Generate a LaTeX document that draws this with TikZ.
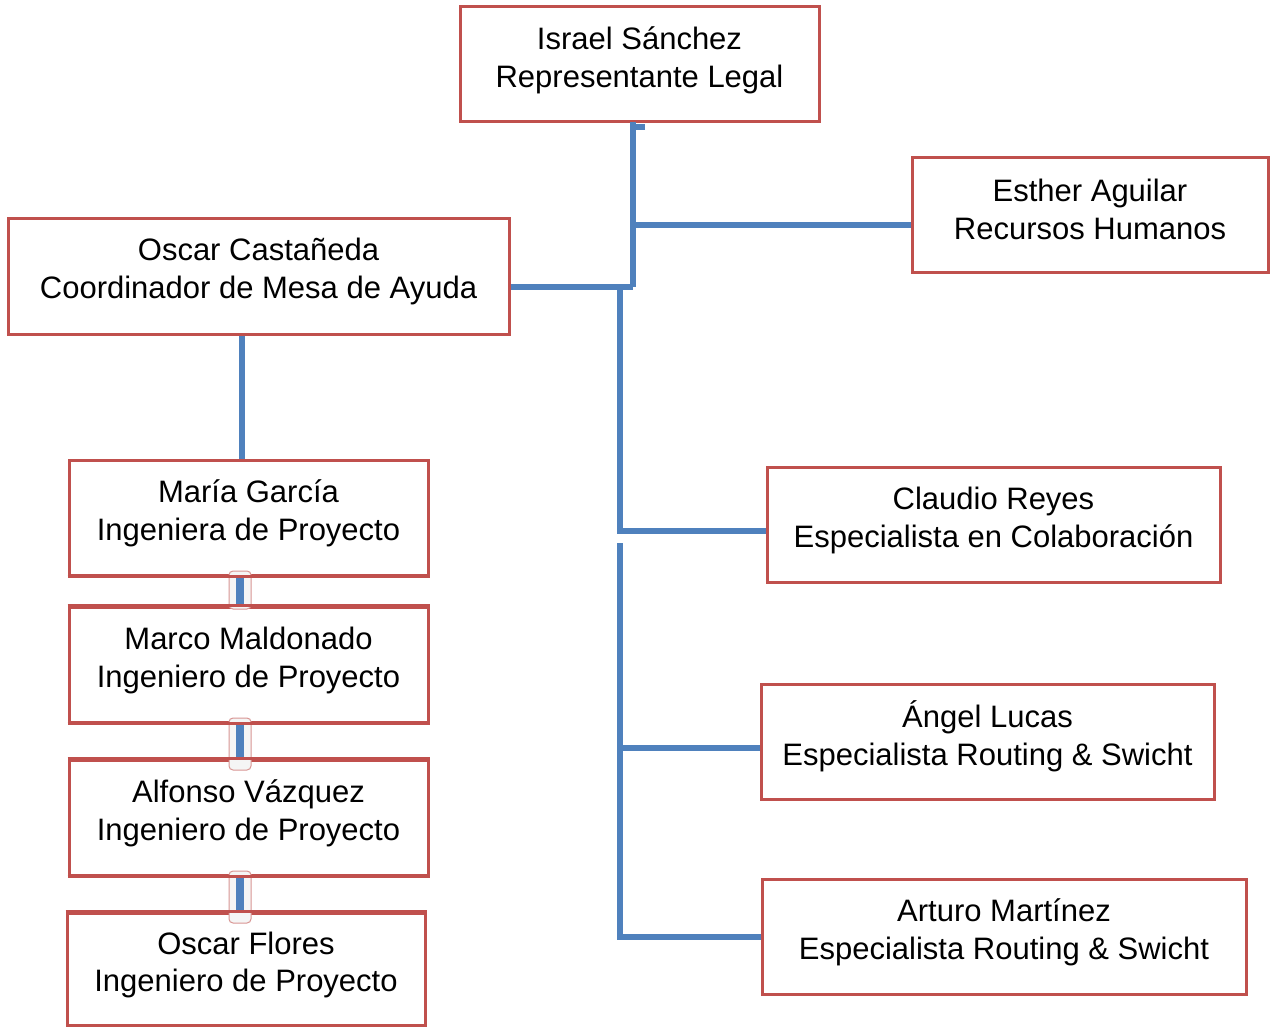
\documentclass[tikz,border=0pt]{standalone}
\usepackage{fontspec}
\setmainfont{Liberation Sans}
\definecolor{boxred}{HTML}{C0504D}
\definecolor{lineblue}{HTML}{4F81BD}
\begin{document}
\begin{tikzpicture}[x=1pt,y=-1pt,
  person/.style={draw=boxred, line width=3pt, fill=white, inner sep=0pt},
  caption/.style={align=center, inner sep=0pt, font=\fontsize{31}{37.5}\selectfont},
  link/.style={draw=lineblue, line width=6pt},
  joint/.style={draw=boxred!60, line width=1pt, fill=gray!8, rounded corners=4pt}]
\useasboundingbox (0,0) rectangle (1270,1027);
\fill[white] (0,0) rectangle (1270,1027);
\coordinate (top) at (633,122);
\coordinate (tick) at (645,127);
\coordinate (jA) at (633,225);
\coordinate (jB) at (633,287);
\coordinate (jC) at (620,287);
\coordinate (jD) at (620,531);
\coordinate (jE) at (620,543);
\coordinate (jF) at (620,748);
\coordinate (jG) at (620,937);
\node[person, minimum width=359pt, minimum height=115pt] (israel) at (639.5,64.5) {};
\node[person, minimum width=356pt, minimum height=115pt] (esther) at (1090,215.5) {};
\node[person, minimum width=501pt, minimum height=115pt] (oscarc) at (258.5,276.5) {};
\node[person, minimum width=359pt, minimum height=115pt] (maria) at (248.5,517.5) {};
\node[person, minimum width=359pt, minimum height=115pt] (marco) at (248.5,664.5) {};
\node[person, minimum width=359pt, minimum height=115pt] (alfonso) at (248.5,817.5) {};
\node[person, minimum width=358pt, minimum height=112pt] (oscarf) at (246,969) {};
\node[person, minimum width=453pt, minimum height=115pt] (claudio) at (993.5,524.5) {};
\node[person, minimum width=453pt, minimum height=115pt] (angel) at (987.5,741.5) {};
\node[person, minimum width=484pt, minimum height=115pt] (arturo) at (1004,936.5) {};
\node[caption] (israelT) at ([yshift=4pt]israel.center) {Israel Sánchez\\Representante Legal};
\node[caption] (estherT) at ([yshift=6pt]esther.center) {Esther Aguilar\\Recursos Humanos};
\node[caption] (oscarcT) at ([yshift=5pt]oscarc.center) {Oscar Castañeda\\Coordinador de Mesa de Ayuda};
\node[caption] (mariaT) at ([yshift=4pt]maria.center) {María García\\Ingeniera de Proyecto};
\node[caption] (marcoT) at ([yshift=4pt]marco.center) {Marco Maldonado\\Ingeniero de Proyecto};
\node[caption] (alfonsoT) at ([yshift=4pt]alfonso.center) {Alfonso Vázquez\\Ingeniero de Proyecto};
\node[caption] (oscarfT) at ([yshift=4pt]oscarf.center) {Oscar Flores\\Ingeniero de Proyecto};
\node[caption] (claudioT) at ([yshift=4pt]claudio.center) {Claudio Reyes\\Especialista en Colaboración};
\node[caption] (angelT) at ([yshift=5pt]angel.center) {Ángel Lucas\\Especialista Routing \& Swicht};
\node[caption] (arturoT) at ([yshift=4pt]arturo.center) {Arturo Martínez\\Especialista Routing \& Swicht};
% top tree
\draw[link] (tick) -- (top |- tick);
\draw[link] (top) -- (jB);
\draw[link] (jA) -- (jA -| esther.west);
\draw[link] (oscarc.east |- jB) -- (jB);
\draw[link] (jC) -- (jD) -- (jD -| claudio.west);
\draw[link] (jE) -- (jG) -- (jG -| arturo.west);
\draw[link] (jF) -- (jF -| angel.west);
\draw[link] (oscarc.south -| 242,0) -- (maria.north -| 242,0);
% stack joints
\draw[joint] (229,571) rectangle (251,609);
\draw[link, line width=8pt] (240,575) -- (240,607);
\draw[joint] (229,718) rectangle (251,770);
\draw[link, line width=8pt] (240,722) -- (240,760);
\draw[joint] (229,871) rectangle (251,923);
\draw[link, line width=8pt] (240,875) -- (240,913);
\draw[boxred, line width=3pt] (maria.south west) -- (maria.south east);
\draw[boxred, line width=3pt] (marco.north west) -- (marco.north east);
\draw[boxred, line width=3pt] (marco.south west) -- (marco.south east);
\draw[boxred, line width=3pt] (alfonso.north west) -- (alfonso.north east);
\draw[boxred, line width=3pt] (alfonso.south west) -- (alfonso.south east);
\draw[boxred, line width=3pt] (oscarf.north west) -- (oscarf.north east);
\end{tikzpicture}
\end{document}
